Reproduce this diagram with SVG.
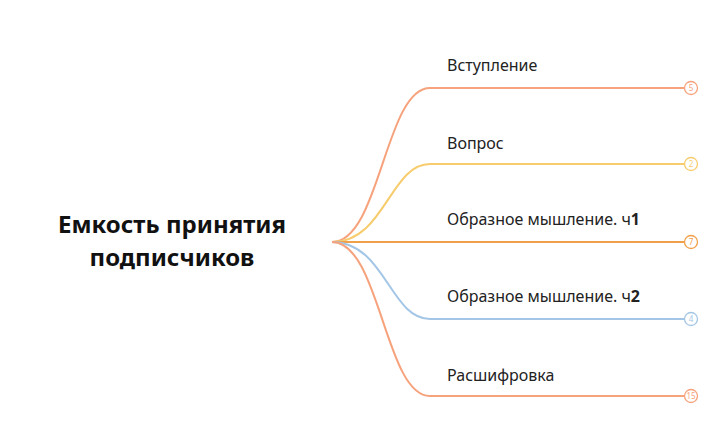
<svg xmlns="http://www.w3.org/2000/svg" width="715" height="442" viewBox="0 0 715 442">
<style>
.t{font-family:"Segoe UI","Noto Sans","Open Sans",sans-serif;font-size:16px;fill:#222}
.c{fill:#fff;stroke-width:1.3}
.n{font-family:"Noto Sans",sans-serif;font-size:8px;text-anchor:middle}
path{fill:none;stroke-width:2}
</style>
<rect width="715" height="442" fill="#fff"/>
<g id="root"><text x="172" y="233" text-anchor="middle" style="font-family:'Noto Sans','Open Sans',sans-serif;font-size:24px;font-weight:bold;fill:#111">Емкость принятия</text>
<text x="172" y="266" text-anchor="middle" style="font-family:'Noto Sans','Open Sans',sans-serif;font-size:24px;font-weight:bold;fill:#111">подписчиков</text></g>
<g id="connectors">
<path d="M332 242 C380 242 385 88 430 88 L685 88" stroke="#F6A27C"/>
<path d="M332 242 C385 242 390 164 430 164 L685 164" stroke="#F7CC6C"/>
<path d="M332 242 L685 242" stroke="#F0A048"/>
<path d="M332 242 C385 242 390 319 430 319 L685 319" stroke="#A4C6E6"/>
<path d="M332 242 C380 242 385 396 430 396 L685 396" stroke="#F6A27C"/>
</g>
<g id="n1"><text class="t" x="447" y="71">Вступление</text><circle class="c" cx="691" cy="88" r="6.5" stroke="#F6A27C"/><text class="n" x="691" y="91" fill="#F6A27C">5</text></g>
<g id="n2"><text class="t" x="447" y="149">Вопрос</text><circle class="c" cx="691" cy="164" r="6.5" stroke="#F7CC6C"/><text class="n" x="691" y="167" fill="#F7CC6C">2</text></g>
<g id="n3"><text class="t" x="447" y="225">Образное мышление. ч<tspan font-weight="bold">1</tspan></text><circle class="c" cx="691" cy="242" r="6.5" stroke="#F0A048"/><text class="n" x="691" y="245" fill="#F0A048">7</text></g>
<g id="n4"><text class="t" x="447" y="302">Образное мышление. ч<tspan font-weight="bold">2</tspan></text><circle class="c" cx="691" cy="319" r="6.5" stroke="#A4C6E6"/><text class="n" x="691" y="322" fill="#A4C6E6">4</text></g>
<g id="n5"><text class="t" x="447" y="381">Расшифровка</text><circle class="c" cx="691" cy="396" r="6.5" stroke="#F6A27C"/><text class="n" x="691" y="399" fill="#F6A27C">15</text></g>
</svg>
